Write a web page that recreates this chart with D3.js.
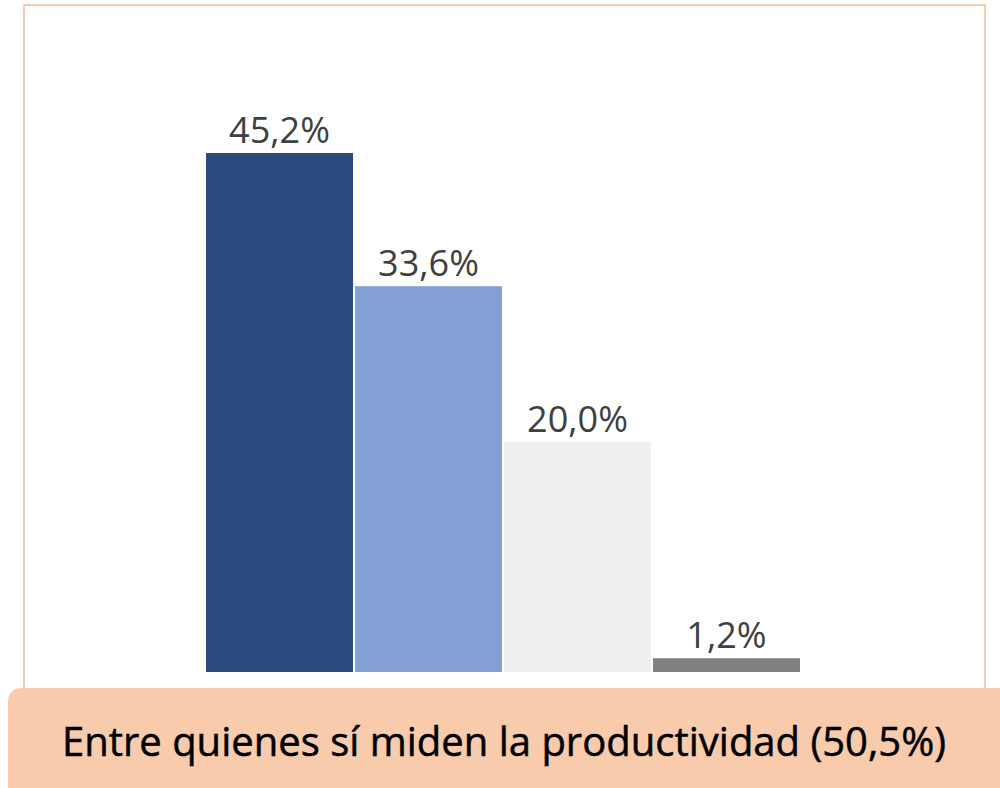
<!DOCTYPE html>
<meta charset="utf-8">
<style>
    body { margin: 0; background: #fff; }
    .label { font-family: "Open Sans", "Noto Sans", sans-serif; font-size: 36px; fill: #404040; }
    .caption { font-family: "Open Sans", "Noto Sans", sans-serif; font-size: 40px; fill: #000; stroke: #000; stroke-width: 0.5px; }
</style>
<body>
<svg></svg>
<script src="https://d3js.org/d3.v7.min.js"></script>
<script type='text/javascript'>

    var categories = ['a', 'b', 'c', 'd'];
    var values = [45.2, 33.6, 20.0, 1.2];
    var labels = ['45,2%', '33,6%', '20,0%', '1,2%'];
    var colors = ['#2b4a7e', '#82a0d4', '#efefef', '#808080'];
    var caption = 'Entre quienes sí miden la productividad (50,5%)';

    var W = 1000, H = 788;

    var svg = d3.select('svg')
        .attr('width', W)
        .attr('height', H);

    // outer frame
    svg.append('rect')
        .attr('x', 24).attr('y', 5)
        .attr('width', 961).attr('height', 700)
        .attr('fill', '#fff')
        .attr('stroke', '#f8cbad')
        .attr('stroke-width', 2);

    var x = d3.scaleBand()
        .domain(categories)
        .range([206, 800])
        .paddingInner(0.013);

    var y = d3.scaleLinear()
        .domain([0, 45.2])
        .range([672, 153]);

    var bars = svg.append('g').attr('class', 'bars');

    bars.selectAll('rect')
        .data(values)
        .enter().append('rect')
        .attr('x', function(d, i) { return x(categories[i]); })
        .attr('y', function(d) { return y(d); })
        .attr('width', x.bandwidth())
        .attr('height', function(d) { return y(0) - y(d); })
        .attr('fill', function(d, i) { return colors[i]; });

    bars.selectAll('text')
        .data(values)
        .enter().append('text')
        .attr('class', 'label')
        .attr('x', function(d, i) { return x(categories[i]) + x.bandwidth() / 2; })
        .attr('y', function(d) { return y(d) - 10; })
        .attr('text-anchor', 'middle')
        .text(function(d, i) { return labels[i]; });

    // caption box
    svg.append('rect')
        .attr('x', 8).attr('y', 688)
        .attr('width', 1010).attr('height', 120)
        .attr('rx', 13)
        .attr('fill', '#f8cbad');

    svg.append('text')
        .attr('class', 'caption')
        .attr('x', 504)
        .attr('y', 756)
        .attr('text-anchor', 'middle')
        .text(caption);

</script>
